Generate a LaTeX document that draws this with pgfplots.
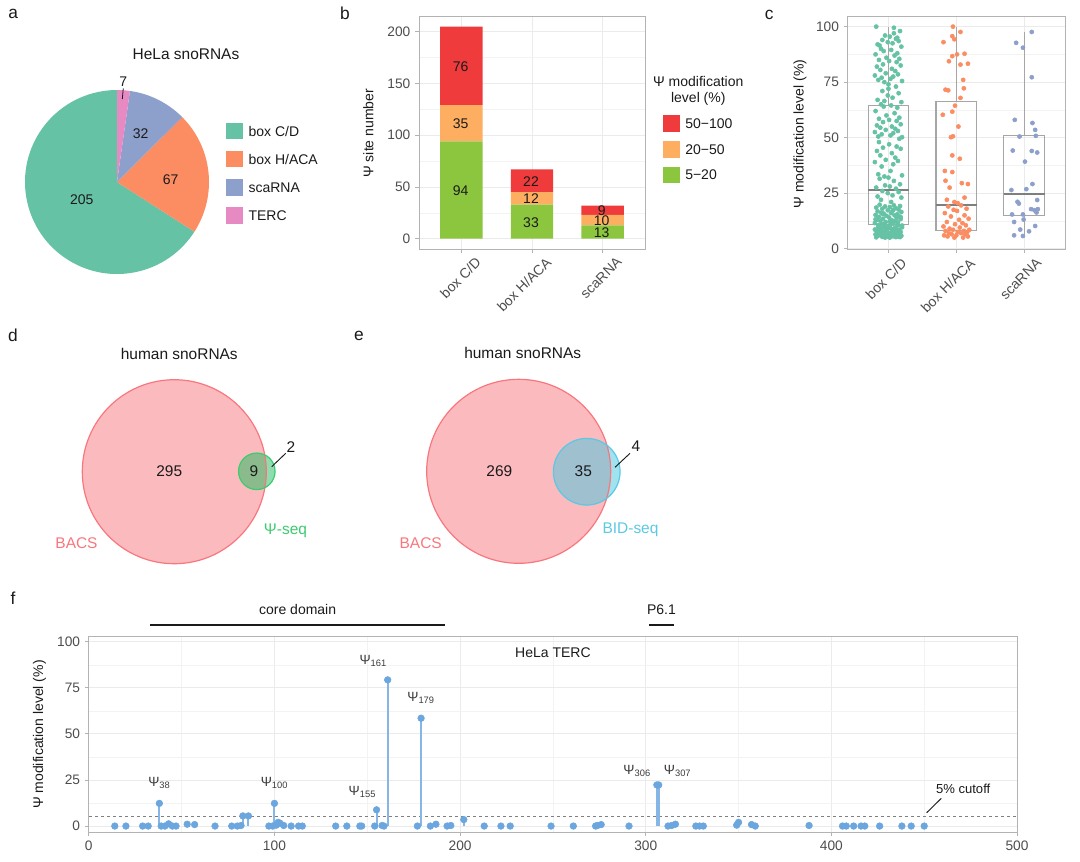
\documentclass[border=0pt]{standalone}
\usepackage{pgfplots}
\pgfplotsset{compat=1.18}
\usepackage{pgfplotstable}
\usepackage{fontspec}
\setmainfont{Liberation Sans}

\definecolor{cdc}{HTML}{66C2A5}
\definecolor{hhc}{HTML}{FC8D62}
\definecolor{scc}{HTML}{8DA0CB}
\definecolor{tec}{HTML}{E78AC3}
\definecolor{rr}{HTML}{EF3B3B}
\definecolor{oo}{HTML}{FDAE61}
\definecolor{gg}{HTML}{8CC63F}
\definecolor{tickc}{HTML}{4D4D4D}
\definecolor{frame}{HTML}{B3B3B3}
\definecolor{gridc}{HTML}{EBEBEB}
\definecolor{bacs}{HTML}{F8767D}
\definecolor{psi}{HTML}{1CBC5E}
\definecolor{psib}{HTML}{3CCB70}
\definecolor{bid}{HTML}{44C6E0}
\definecolor{bidb}{HTML}{5BC8E4}
\definecolor{ptc}{HTML}{6CA6DE}
\definecolor{stemc}{HTML}{86B6E6}
\definecolor{boxc}{HTML}{A6A6A6}
\definecolor{medc}{HTML}{7F7F7F}
\definecolor{txt}{HTML}{1A1A1A}

\tikzset{
  fs/.style={font=\fontsize{10.5}{12.6}\selectfont},
  ft/.style={font=\fontsize{11.6}{14}\selectfont},
  fl/.style={font=\fontsize{13}{15.6}\selectfont},
  fp/.style={font=\fontsize{10}{12}\selectfont},
}

\pgfplotsset{
  lightstyle/.style={
    scale only axis, clip=false,
    axis line style={draw=frame, line width=0.6pt},
    tick style={draw=frame, line width=0.6pt},
    tick align=outside, tick pos=left,
    major tick length=3pt, minor tick length=0pt,
    major grid style={draw=gridc, line width=0.6pt},
    minor grid style={draw=gridc!60, line width=0.35pt},
    tick label style={font=\fontsize{10.3}{12}\selectfont, text=tickc},
    /pgf/number format/assume math mode=true,
  },
  boxline/.style={draw=boxc, line width=0.8pt, line join=miter, mark=none},
  medline/.style={draw=medc, line width=1.5pt, mark=none},
}

% panel c: jittered points (x = category + jitter, y = level)
\pgfplotstableread[row sep=\\]{
x y\\
0.82 100\\ 1.08 99.5\\ 1.17 98\\ 0.95 96\\ 1.02 95.5\\ 1.13 95\\ 1.11 94.5\\ 0.91 94\\ 1.15 93.5\\ 0.99 93\\
1.06 92.5\\ 0.84 92\\ 1.19 91\\ 0.89 90\\ 1.04 89.5\\ 0.93 89\\ 1.13 88\\ 0.81 87.5\\ 1.09 87\\ 0.97 86\\
1.16 85.5\\ 0.86 85\\ 1.01 84.5\\ 1.12 84\\ 0.92 83\\ 1.18 82.5\\ 0.83 82\\ 1.05 81\\ 0.88 80.5\\ 1.10 80\\
0.96 79\\ 1.14 78.5\\ 0.80 78\\ 1.07 77.5\\ 0.90 77\\ 1.03 76.5\\ 0.85 76\\ 1.20 75.5\\ 0.94 75\\ 1.00 74\\
1.11 73\\ 0.91 71\\ 1.15 70\\ 0.99 69\\ 1.06 68\\ 0.84 67\\ 1.19 66\\ 0.89 65\\ 1.04 64.5\\ 0.93 64\\
1.13 63.5\\ 0.81 62\\ 1.09 61\\ 0.97 60\\ 1.16 59\\ 0.86 58.5\\ 1.01 58\\ 1.12 57.5\\ 0.92 57\\ 1.18 56\\
0.83 55.5\\ 1.05 55\\ 0.88 54.5\\ 1.10 54\\ 0.96 53.5\\ 1.14 53\\ 0.80 52.5\\ 1.07 52\\ 0.90 51.5\\ 1.03 51\\
0.85 50.5\\ 1.20 50.2\\ 0.94 66.5\\ 1.00 72\\ 1.08 97\\ 0.87 91.5\\
1.16 49.5\\ 0.86 48\\ 1.01 47\\ 1.12 46\\ 0.92 45.5\\ 1.18 45\\ 0.83 44\\ 1.05 43\\ 0.88 42\\ 1.10 41\\
0.96 40\\ 1.14 39.5\\ 0.80 39\\ 1.07 38\\ 0.90 37\\ 1.03 35\\ 0.85 33.5\\ 1.20 33\\ 0.94 32.5\\ 1.00 32\\
0.87 31.5\\ 1.08 30.5\\ 1.17 29\\ 0.95 28.5\\ 1.02 28\\ 0.82 27.5\\ 1.11 27\\ 0.91 26\\ 1.15 25.5\\ 0.99 25\\
1.06 24\\ 0.84 23.5\\ 1.19 23\\ 0.89 22\\ 1.04 21\\
0.87 19.8\\ 1.08 19.5\\ 1.17 19.2\\ 0.95 19\\ 1.02 18.7\\ 0.82 18.5\\ 1.11 18.2\\ 0.91 18\\ 1.15 17.6\\ 0.99 17.3\\
1.06 17\\ 0.84 16.8\\ 1.19 16.5\\ 0.89 16.2\\ 1.04 16\\ 0.93 15.8\\ 1.13 15.5\\ 0.81 15.2\\ 1.09 15\\ 0.97 14.8\\
1.16 14.5\\ 0.86 14.3\\ 1.01 14\\ 1.12 13.8\\ 0.92 13.5\\ 1.18 13.3\\ 0.83 13\\ 1.05 12.8\\ 0.88 12.5\\ 1.10 12.3\\
0.96 12\\ 1.14 11.8\\ 0.80 11.5\\ 1.07 11.3\\ 0.90 11\\ 1.03 10.8\\ 0.85 10.6\\ 1.20 10.4\\ 0.94 10.2\\ 1.00 10\\
0.94 9.8\\ 1.20 9.6\\ 0.85 9.4\\ 1.03 9.2\\ 0.90 9\\ 1.07 8.8\\ 0.80 8.6\\ 1.14 8.4\\ 0.96 8.2\\ 1.10 8\\
0.88 7.9\\ 1.05 7.8\\ 0.83 7.6\\ 1.18 7.5\\ 0.92 7.4\\ 1.12 7.2\\ 1.01 7\\ 0.86 6.9\\ 1.16 6.8\\ 0.97 6.6\\
1.09 6.5\\ 0.81 6.4\\ 1.13 6.2\\ 0.93 6.1\\ 1.04 6\\ 0.89 5.9\\ 1.19 5.8\\ 0.84 5.7\\ 1.06 5.6\\ 0.99 5.5\\
1.15 5.4\\ 0.91 5.3\\ 1.11 5.2\\ 0.82 5.1\\ 1.02 5\\ 0.95 5\\ 1.17 5.2\\ 1.08 5.6\\ 0.87 6.3\\ 1.00 6.7\\
0.90 7.1\\ 1.05 7.7\\ 0.84 8.1\\ 1.16 8.5\\ 0.98 9.1\\ 1.10 9.5\\ 0.86 10.1\\ 1.14 10.5\\ 0.94 11.2\\ 1.02 12.2\\
0.81 13.2\\ 1.18 14.2\\ 0.92 15.6\\ 1.07 17.5\\
}\cdpts

\pgfplotstableread[row sep=\\]{
x y\\
1.95 100\\ 2.06 97.6\\ 1.94 95.7\\ 1.97 94.3\\ 1.81 93\\ 2.12 87.8\\ 2.01 87.5\\ 1.94 86.7\\ 1.89 84.4\\ 2.17 83.3\\
2.06 82.9\\ 2.10 76\\ 2.11 72.2\\ 1.84 71.6\\ 1.88 71.3\\ 2.06 67.9\\ 1.98 64.4\\ 1.94 61.7\\ 1.80 60.3\\ 2.03 55\\
1.95 50.6\\ 1.92 50.2\\
1.94 42\\ 2.05 40.5\\ 1.83 35\\ 1.94 34.5\\ 1.84 30.6\\ 2.08 29.5\\ 2.17 29.1\\ 1.90 27.5\\ 2.12 23\\ 1.86 22\\
1.97 21\\ 2.02 20.5\\
2.07 19.5\\ 1.88 19\\ 2.15 18\\ 1.96 17.5\\ 2.01 17\\ 1.83 16\\ 2.12 15\\ 1.92 14.5\\ 2.18 13.5\\ 2.04 13\\
1.86 12\\ 2.09 11.5\\ 1.98 11\\ 2.14 10.5\\ 1.81 10\\ 2.05 9.5\\ 1.90 9\\ 2.19 8.5\\ 1.95 8.5\\ 2.11 8\\
1.84 8\\ 2.02 7.5\\ 2.16 7.5\\ 1.89 7\\ 2.07 7\\ 1.93 6.5\\ 2.13 6.5\\ 1.82 6\\ 2.00 6\\ 2.17 5.5\\
1.87 5.5\\ 1.97 5\\ 2.10 5\\
}\hhpts

\pgfplotstableread[row sep=\\]{
x y\\
3.11 97.6\\ 2.88 92.7\\ 2.98 90.5\\ 3.11 77.2\\ 2.86 58\\ 3.12 56.6\\ 3.16 53.5\\ 2.93 50.5\\ 3.17 50.8\\
2.83 44.2\\ 3.11 44.0\\ 3.19 43.3\\ 3.01 39.2\\ 2.81 26.4\\ 3.03 26.8\\ 3.12 29.1\\ 2.90 21.1\\ 2.92 20.3\\ 3.19 21.9\\
2.82 15.4\\ 2.98 15.4\\ 3.10 17.8\\ 3.15 17.3\\ 3.18 16.3\\ 3.20 17.8\\ 2.85 12.0\\ 2.99 13.1\\ 3.16 10.2\\ 2.94 8.6\\
3.07 7.8\\ 2.85 6.0\\ 2.98 5.7\\
}\scpts

% panel f: TERC sites
\pgfplotstableread[row sep=\\]{
x y\\
14 0\\ 20 0\\ 29 0\\ 32 0\\ 38 12.3\\ 39 0\\ 41 0\\ 43 1.2\\ 45 0\\ 47 0\\
53 1\\ 57 0.8\\ 68 0\\ 77 0\\ 80 0\\ 82 0.3\\ 83 5.5\\ 86 5.5\\ 97 0\\ 99 0\\
100 12.3\\ 101 0.5\\ 102 2\\ 103 1.5\\ 105 0.3\\ 109 0\\ 113 0\\ 115 0\\ 133 0\\ 139 0\\
146 0\\ 147 0\\ 154 0\\ 155 8.8\\ 158 0.3\\ 159 0\\ 161 79.3\\ 177 0\\ 179 58.5\\ 184 0\\
187 1\\ 193 0\\ 195 0.3\\ 202 3.5\\ 213 0\\ 222 0\\ 227 0\\ 249 0\\ 261 0\\ 273 0\\
274 0.3\\ 276 0.8\\ 291 0\\ 306 22.3\\ 307 22.3\\ 312 0\\ 314 0.3\\ 316 1\\ 327 0\\ 329 0\\
331 0\\ 349 0.5\\ 350 2\\ 357 0.8\\ 359 0\\ 388 0.3\\ 406 0\\ 408 0\\ 412 0\\ 416 0\\
418 0\\ 426 0\\ 438 0\\ 443 0\\ 450 0\\
}\tercpts

\begin{document}
\begin{tikzpicture}
\begin{scope}[x=0.75pt,y=-0.75pt]
\useasboundingbox (0,0) rectangle (1080,861);
\end{scope}

% pie angles from counts 7, 32, 67, 205 (total 311), clockwise from top
\pgfmathsetmacro{\unitang}{360/311}
\pgfmathsetmacro{\aA}{90-\unitang*7}
\pgfmathsetmacro{\aB}{\aA-\unitang*32}
\pgfmathsetmacro{\aC}{\aB-\unitang*67}
\pgfmathsetmacro{\aD}{\aC-\unitang*205}

% ---------- overlay axis (pixel coordinates) for pie and Venn ----------
\begin{axis}[at={(0pt,0pt)}, anchor=north west, scale only axis,
  width=810pt, height=645.75pt, xmin=0, xmax=1080, ymin=0, ymax=861,
  y dir=reverse, hide axis, clip=false]
  \fill[cdc] (axis cs:117,182) -- ++(\aC:69pt) arc[start angle=\aC, end angle=\aD, radius=69pt] -- cycle;
  \fill[hhc] (axis cs:117,182) -- ++(\aB:69pt) arc[start angle=\aB, end angle=\aC, radius=69pt] -- cycle;
  \fill[scc] (axis cs:117,182) -- ++(\aA:69pt) arc[start angle=\aA, end angle=\aB, radius=69pt] -- cycle;
  \fill[tec] (axis cs:117,182) -- ++(90:69pt) arc[start angle=90, end angle=\aA, radius=69pt] -- cycle;
  % Venn d
  \fill[bacs, fill opacity=0.5] (axis cs:174.3,471.7) circle[radius=69pt];
  \fill[psi, fill opacity=0.5] (axis cs:256.8,471.3) circle[radius=13.7pt];
  \draw[bacs, line width=0.9pt] (axis cs:174.3,471.7) circle[radius=69pt];
  \draw[psib, line width=0.9pt] (axis cs:256.8,471.3) circle[radius=13.7pt];
  % Venn e
  \fill[bacs, fill opacity=0.5] (axis cs:518.7,471.3) circle[radius=69pt];
  \fill[bid, fill opacity=0.5] (axis cs:586.7,471.7) circle[radius=25pt];
  \draw[bacs, line width=0.9pt] (axis cs:518.7,471.3) circle[radius=69pt];
  \draw[bidb, line width=0.9pt] (axis cs:586.7,471.7) circle[radius=25pt];
\end{axis}

% ---------- panel b ----------
\begin{axis}[lightstyle, at={(314.25pt,-186.975pt)}, anchor=south west,
  width=169.5pt, height=175pt,
  xmin=0.4, xmax=3.6, ymin=-10.25, ymax=215.25,
  xtick={1,2,3}, xticklabels={,,},
  ytick={0,50,100,150,200}, minor ytick={25,75,125,175},
  xmajorgrids, ymajorgrids, yminorgrids,
  ybar stacked, bar width=0.6]
  \addplot[fill=gg, draw=none] coordinates {(1,94) (2,33) (3,13)};
  \addplot[fill=oo, draw=none] coordinates {(1,35) (2,12) (3,10)};
  \addplot[fill=rr, draw=none] coordinates {(1,76) (2,22) (3,9)};
\end{axis}

% ---------- panel c ----------
\begin{axis}[lightstyle, at={(635.775pt,-186.975pt)}, anchor=south west,
  width=163pt, height=175pt,
  xmin=0.4, xmax=3.6, ymin=-0.3, ymax=104.8,
  xtick={1,2,3}, xticklabels={,,},
  ytick={0,25,50,75,100}, minor ytick={12.5,37.5,62.5,87.5},
  xmajorgrids, ymajorgrids, yminorgrids]
  % box C/D: 5, 11, 26.5, 64.5, 100
  \addplot[boxline] coordinates {(0.7,11) (1.3,11) (1.3,64.5) (0.7,64.5) (0.7,11)};
  \addplot[boxline] coordinates {(1,64.5) (1,100)};
  \addplot[boxline] coordinates {(1,5) (1,11)};
  \addplot[medline] coordinates {(0.7,26.5) (1.3,26.5)};
  % box H/ACA: 5, 8, 19.8, 66.3, 100
  \addplot[boxline] coordinates {(1.7,8) (2.3,8) (2.3,66.3) (1.7,66.3) (1.7,8)};
  \addplot[boxline] coordinates {(2,66.3) (2,100)};
  \addplot[boxline] coordinates {(2,5) (2,8)};
  \addplot[medline] coordinates {(1.7,19.8) (2.3,19.8)};
  % scaRNA: 5.7, 14.8, 24.6, 50.9, 97.6
  \addplot[boxline] coordinates {(2.7,14.8) (3.3,14.8) (3.3,50.9) (2.7,50.9) (2.7,14.8)};
  \addplot[boxline] coordinates {(3,50.9) (3,97.6)};
  \addplot[boxline] coordinates {(3,5.7) (3,14.8)};
  \addplot[medline] coordinates {(2.7,24.6) (3.3,24.6)};
  \addplot[only marks, mark=*, mark size=1.55pt, color=cdc] table[x=x,y=y] {\cdpts};
  \addplot[only marks, mark=*, mark size=1.55pt, color=hhc] table[x=x,y=y] {\hhpts};
  \addplot[only marks, mark=*, mark size=1.55pt, color=scc] table[x=x,y=y] {\scpts};
\end{axis}

% ---------- panel f ----------
\begin{axis}[lightstyle, at={(66.6pt,-624.225pt)}, anchor=south west,
  width=696.15pt, height=146.7pt,
  xmin=0, xmax=500, ymin=-3.4, ymax=102.7,
  xtick={0,100,200,300,400,500}, minor xtick={50,150,250,350,450},
  ytick={0,25,50,75,100}, minor ytick={12.5,37.5,62.5,87.5},
  xmajorgrids, ymajorgrids, xminorgrids, yminorgrids]
  \addplot[draw=gray, line width=0.6pt, dash pattern=on 2.5pt off 2pt] coordinates {(0,5) (500,5)};
  \addplot[ycomb, draw=stemc, line width=1.5pt] table[x=x,y=y] {\tercpts};
  \addplot[only marks, mark=*, mark size=2.5pt, color=ptc] table[x=x,y=y] {\tercpts};
  \draw[line width=2pt, txt] (axis cs:33,109) -- (axis cs:192,109);
  \node[fs, text=txt] at (axis cs:112.5,117.2) {core domain};
  \draw[line width=2pt, txt] (axis cs:302,109) -- (axis cs:315,109);
  \node[fs, text=txt] at (axis cs:308.5,117.2) {P6.1};
  \node[fs, text=txt] at (axis cs:250,94) {HeLa TERC};
  \node[text=txt, font=\fontsize{9.8}{11}\selectfont] at (axis cs:471,20.4) {5\% cutoff};
  \draw[line width=0.7pt, txt] (axis cs:451.3,7.2) -- (axis cs:459.2,15);
  \node[fp, text=txt!85, anchor=base] at (axis cs:38,21.7) {Ψ\textsubscript{38}};
  \node[fp, text=txt!85, anchor=base] at (axis cs:100,21.7) {Ψ\textsubscript{100}};
  \node[fp, text=txt!85, anchor=base] at (axis cs:147.4,16.8) {Ψ\textsubscript{155}};
  \node[fp, text=txt!85, anchor=base] at (axis cs:153.2,87.4) {Ψ\textsubscript{161}};
  \node[fp, text=txt!85, anchor=base] at (axis cs:179,67.5) {Ψ\textsubscript{179}};
  \node[fp, text=txt!85, anchor=base] at (axis cs:295.4,28.2) {Ψ\textsubscript{306}};
  \node[fp, text=txt!85, anchor=base] at (axis cs:317.2,28.2) {Ψ\textsubscript{307}};
\end{axis}

% ---------- texts (pixel coordinates) ----------
\begin{scope}[x=0.75pt,y=-0.75pt]
\node[fl, text=txt] at (13.3,14) {a};
\node[fl, text=txt] at (345,13.3) {b};
\node[fl, text=txt] at (769.3,15) {c};
\node[fl, text=txt] at (13,335) {d};
\node[fl, text=txt] at (359,336) {e};
\node[fl, text=txt] at (13,598) {f};

% panel a
\node[ft, text=txt] at (186,54.3) {HeLa snoRNAs};
\node[fs, text=txt] at (81.7,200) {205};
\node[fs, text=txt] at (170.7,180) {67};
\node[fs, text=txt] at (140.7,134) {32};
\node[fs, text=txt] at (123.3,81.7) {7};
\draw[line width=0.6pt, txt] (123.3,88.3) -- (122.3,99);
\fill[cdc] (226,122.7) rectangle (242.7,139.3);
\fill[hhc] (226,150.7) rectangle (242.7,167.3);
\fill[scc] (226,179) rectangle (242.7,195.7);
\fill[tec] (226,207) rectangle (242.7,223.7);
\node[fs, text=txt, anchor=west, inner sep=0pt] at (248.3,131) {box C/D};
\node[fs, text=txt, anchor=west, inner sep=0pt] at (248.3,159) {box H/ACA};
\node[fs, text=txt, anchor=west, inner sep=0pt] at (248.3,187.3) {scaRNA};
\node[fs, text=txt, anchor=west, inner sep=0pt] at (248.3,215.3) {TERC};

% panel b
\node[fs, text=txt] at (460.7,190.7) {94};
\node[fs, text=txt] at (460.7,124.1) {35};
\node[fs, text=txt] at (460.7,66.8) {76};
\node[fs, text=txt] at (531,222.3) {33};
\node[fs, text=txt] at (531,199) {12};
\node[fs, text=txt] at (531,181.4) {22};
\node[fs, text=txt] at (601.7,232.6) {13};
\node[fs, text=txt] at (601.7,220.7) {10};
\node[fs, text=txt] at (601.7,210.9) {9};
\node[fs, text=txt, rotate=90] at (368.3,133.3) {Ψ site number};
\node[fs, text=tickc, rotate=45, anchor=north east, inner sep=0pt] at (474.7,256) {box C/D};
\node[fs, text=tickc, rotate=45, anchor=north east, inner sep=0pt] at (545,256) {box H/ACA};
\node[fs, text=tickc, rotate=45, anchor=north east, inner sep=0pt] at (615.7,256) {scaRNA};
\node[fs, text=txt] at (698.3,81.7) {Ψ modification};
\node[fs, text=txt] at (698.3,99.3) {level (\%)};
\fill[rr] (663.3,115) rectangle (680,131.7);
\fill[oo] (663.3,141) rectangle (680,157.5);
\fill[gg] (663.3,166.5) rectangle (680,183);
\node[fs, text=txt, anchor=west, inner sep=0pt] at (685,123.3) {50−100};
\node[fs, text=txt, anchor=west, inner sep=0pt] at (685,149.2) {20−50};
\node[fs, text=txt, anchor=west, inner sep=0pt] at (685,174.7) {5−20};

% panel c
\node[fs, text=txt, rotate=90] at (800,134) {Ψ modification level (\%)};
\node[fs, text=tickc, rotate=45, anchor=north east, inner sep=0pt] at (900.3,257) {box C/D};
\node[fs, text=tickc, rotate=45, anchor=north east, inner sep=0pt] at (968.7,257) {box H/ACA};
\node[fs, text=tickc, rotate=45, anchor=north east, inner sep=0pt] at (1035.3,257) {scaRNA};

% panel d
\node[ft, text=txt] at (179.3,354) {human snoRNAs};
\node[ft, text=txt] at (169.3,470.7) {295};
\node[ft, text=bacs] at (76.5,543.3) {BACS};
\node[ft, text=txt] at (254,470.7) {9};
\node[ft, text=txt] at (291,446.7) {2};
\draw[line width=0.7pt, txt] (271.7,466.7) -- (285.7,453.3);
\node[ft, text=psib] at (285.5,531) {Ψ-seq};

% panel e
\node[ft, text=txt] at (522.7,353.3) {human snoRNAs};
\node[ft, text=txt] at (499.3,470.7) {269};
\node[ft, text=bacs] at (420.7,543.3) {BACS};
\node[ft, text=txt] at (583.3,470.7) {35};
\node[ft, text=txt] at (636,446) {4};
\draw[line width=0.7pt, txt] (615,467.3) -- (630,453.3);
\node[ft, text=bidb] at (630.5,529.3) {BID-seq};

% panel f
\node[fs, text=txt, rotate=90] at (39.6,734.5) {Ψ modification level (\%)};
\end{scope}
\end{tikzpicture}
\end{document}
